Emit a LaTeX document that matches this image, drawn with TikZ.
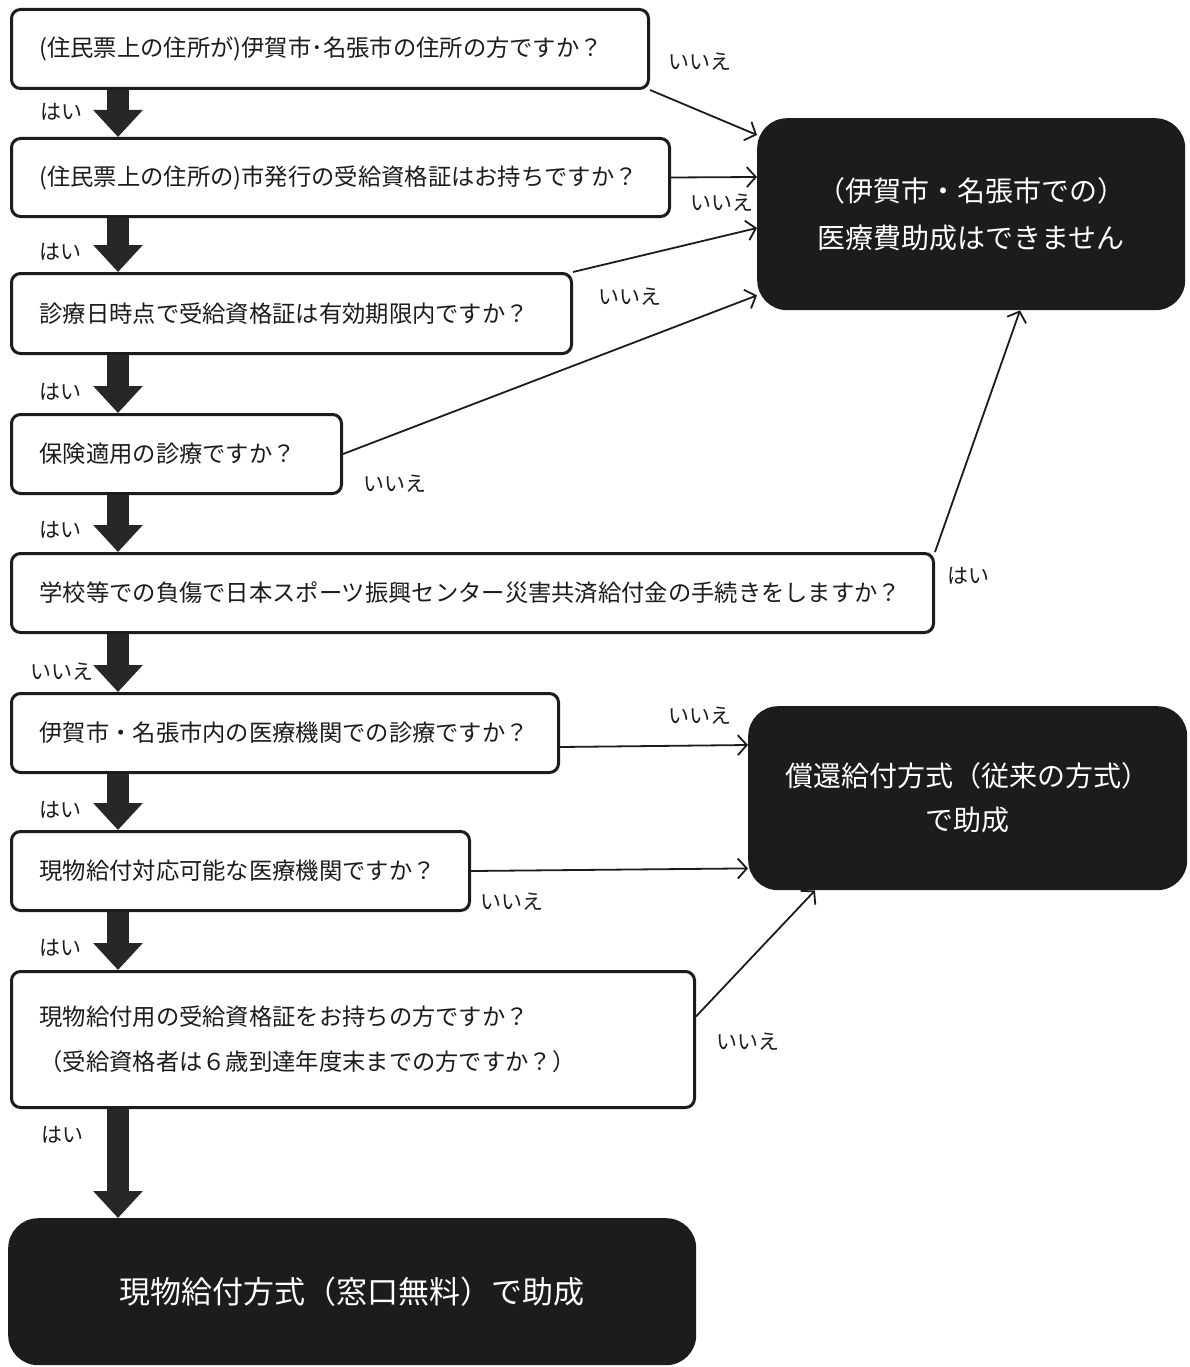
\documentclass[tikz,border=0pt]{standalone}
\usepackage{fontspec}
\setmainfont{Noto Sans CJK JP}
\usetikzlibrary{arrows.meta}
\definecolor{ink}{HTML}{1C1C1C}
\newcommand{\qf}{\fontsize{23.3pt}{45pt}\selectfont}
\newcommand{\rf}{\fontsize{28pt}{47pt}\selectfont}
\newcommand{\rfbig}{\fontsize{31pt}{36pt}\selectfont}
\newcommand{\lf}{\fontsize{21pt}{24pt}\selectfont}
\begin{document}
\begin{tikzpicture}[x=1pt,y=-1pt,
  qbox/.style={draw=ink, line width=3pt, rounded corners=9pt, fill=white, anchor=north west,
               inner xsep=28pt, inner ysep=0pt, align=left, font=\qf, text=ink},
  rbox/.style={fill=ink, rounded corners=30pt, anchor=north west, text=white, align=center,
               font=\rf, inner sep=0pt},
  bigarrow/.style={draw=ink!95, line width=22pt, -{Triangle[length=27pt,width=48pt]}},
  linkarrow/.style={draw=ink, line width=1.8pt, -{Straight Barb[length=9pt,width=20pt]}},
  lab/.style={font=\lf, text=ink, inner sep=0pt}]
\fill[white] (0,0) rectangle (1189,1367);
\useasboundingbox (0,0) rectangle (1189,1367);

% question boxes
\node[qbox, minimum height=79pt, text width=581pt] (q1) at (10,8)
  {(住民票上の住所が)伊賀市･名張市の住所の方ですか？};
\node[qbox, minimum height=78pt, text width=602pt] (q2) at (10,137)
  {(住民票上の住所の)市発行の受給資格証はお持ちですか？};
\node[qbox, minimum height=80pt, text width=504pt] (q3) at (10,272)
  {診療日時点で受給資格証は有効期限内ですか？};
\node[qbox, minimum height=79pt, text width=274pt] (q4) at (10,413)
  {保険適用の診療ですか？};
\node[qbox, minimum height=79pt, text width=866pt] (q5) at (10,552)
  {学校等での負傷で日本スポーツ振興センター災害共済給付金の手続きをしますか？};
\node[qbox, minimum height=79pt, text width=491pt] (q6) at (10,692)
  {伊賀市・名張市内の医療機関での診療ですか？};
\node[qbox, minimum height=79pt, text width=402pt] (q7) at (10,830)
  {現物給付対応可能な医療機関ですか？};
\node[qbox, minimum height=136pt, text width=627pt] (q8) at (10,970)
  {現物給付用の受給資格証をお持ちの方ですか？\\（受給資格者は６歳到達年度末までの方ですか？）};

% result boxes
\node[rbox, minimum width=428pt, minimum height=192pt] (r1) at (757,118)
  {（伊賀市・名張市での）\\医療費助成はできません};
\node[rbox, minimum width=439pt, minimum height=184pt, font=\fontsize{28pt}{44pt}\selectfont] (r2) at (748,706)
  {償還給付方式（従来の方式）\\で助成};
\node[rbox, minimum width=688pt, minimum height=147pt, font=\rfbig] (r3) at (8,1218)
  {現物給付方式（窓口無料）で助成};

% thick "yes" arrows
\coordinate (ax) at (118,0);
\draw[bigarrow] (ax |- q1.south) -- (ax |- q2.north);
\draw[bigarrow] (ax |- q2.south) -- (ax |- q3.north);
\draw[bigarrow] (ax |- q3.south) -- (ax |- q4.north);
\draw[bigarrow] (ax |- q4.south) -- (ax |- q5.north);
\draw[bigarrow] (ax |- q5.south) -- (ax |- q6.north);
\draw[bigarrow] (ax |- q6.south) -- (ax |- q7.north);
\draw[bigarrow] (ax |- q7.south) -- (ax |- q8.north);
\draw[bigarrow] (ax |- q8.south) -- (ax |- r3.north);

\node[lab] (y1) at (61,112) {はい};
\node[lab] (y2) at (60,252) {はい};
\node[lab] (y3) at (60,392) {はい};
\node[lab] (y4) at (60,530) {はい};
\node[lab] (n5) at (62,672) {いいえ};
\node[lab] (y6) at (60,810) {はい};
\node[lab] (y7) at (60,948) {はい};
\node[lab] (y8) at (62,1135) {はい};

% thin "no" arrows
\draw[linkarrow] (q1.south east) -- ([yshift=-17pt]r1.north west);
\draw[linkarrow] (q2.east) -- ([yshift=-59pt]r1.north west);
\draw[linkarrow] (q3.north east) -- ([yshift=-110pt]r1.north west);
\draw[linkarrow] (q4.east) -- ([yshift=15pt]r1.south west);
\draw[linkarrow] (q5.north east) -- ([xshift=263pt]r1.south west);
\draw[linkarrow] ([yshift=-14pt]q6.east) -- ([yshift=-39pt]r2.north west);
\draw[linkarrow] (q7.east) -- ([yshift=22pt]r2.south west);
\draw[linkarrow] ([yshift=23pt]q8.east) -- ([xshift=67pt]r2.south west);

\node[lab] (n1) at (700,62) {いいえ};
\node[lab] (n2) at (722,203) {いいえ};
\node[lab] (n3) at (630,297) {いいえ};
\node[lab] (n4) at (395,484) {いいえ};
\node[lab] (y5) at (968,576) {はい};
\node[lab] (n6) at (700,716) {いいえ};
\node[lab] (n7) at (512,902) {いいえ};
\node[lab] (n8) at (748,1042) {いいえ};
\end{tikzpicture}
\end{document}
